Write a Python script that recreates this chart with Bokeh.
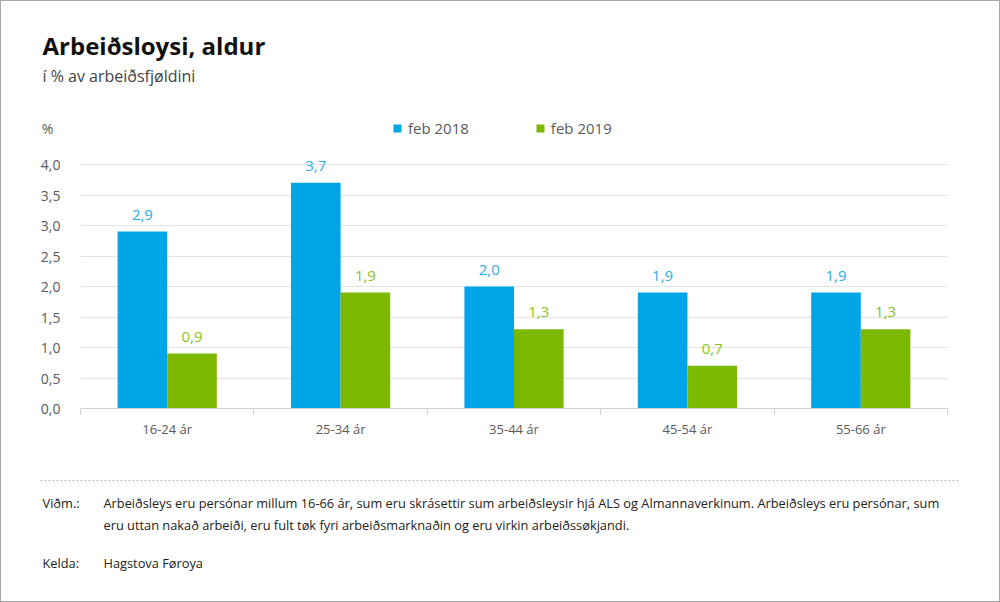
from bokeh.plotting import figure
from bokeh.layouts import column
from bokeh.models import (ColumnDataSource, Range1d, FixedTicker, CustomJSTickFormatter,
                          LabelSet, Legend, LegendItem)
from bokeh.core.properties import value
from bokeh.embed import file_html
from bokeh.resources import INLINE

categories = ["16-24 ár", "25-34 ár", "35-44 ár", "45-54 ár", "55-66 ár"]
series_names = ["feb 2018", "feb 2019"]
feb2018 = [2.9, 3.7, 2.0, 1.9, 1.9]
feb2019 = [0.9, 1.9, 1.3, 0.7, 1.3]
y_ticks = [0.0, 0.5, 1.0, 1.5, 2.0, 2.5, 3.0, 3.5, 4.0]

title = "Arbeiðsloysi, aldur"
subtitle = "í % av arbeiðsfjøldini"
unit = "%"
note_label = "Viðm.:"
note_lines = ["Arbeiðsleys eru persónar millum 16-66 ár, sum eru skrásettir sum arbeiðsleysir hjá ALS og Almannaverkinum. Arbeiðsleys eru persónar, sum",
              "eru uttan nakað arbeiði, eru fult tøk fyri arbeiðsmarknaðin og eru virkin arbeiðssøkjandi."]
source_label = "Kelda:"
source_text = "Hagstova Føroya"

BLUE = "#00a5e8"
GREEN = "#7db800"
BLUE_TXT = "#2ab0e8"
GREEN_TXT = "#8cbf20"
FONT = "Open Sans"

W, H = 1000, 602
HEAD_H = 100
FOOT_TOP = 462
FL, FR, FT, FB = 80, 947, 110, 408   # main frame edges in page pixels
Y_END = 4.0 * (FB - FT) / (FB - 164)
Y_UNIT = 4.0 * (FB - 128) / (FB - 164)   # height at which the "%" unit label sits


def blank(h, top):
    f = figure(width=W, height=h, output_backend="svg", toolbar_location=None,
               x_range=Range1d(0, W), y_range=Range1d(top + h, top),
               min_border=0, min_border_left=0, min_border_right=0,
               min_border_top=0, min_border_bottom=0)
    f.frame_align = False
    f.axis.visible = False
    f.grid.visible = False
    f.outline_line_color = None
    f.background_fill_alpha = 0
    f.border_fill_alpha = 0
    return f


# ---------- header ----------
head = blank(HEAD_H, 0)
head.text(x=[42], y=[45], text=[title], text_font=value(FONT), text_font_size="24px",
          text_font_style="bold", text_color="#111111", text_baseline="middle")
head.text(x=[42], y=[75], text=[subtitle], text_font=value(FONT), text_font_size="16px",
          text_color="#444444", text_baseline="middle")

# ---------- main chart ----------
p = figure(width=W, height=FOOT_TOP - HEAD_H, output_backend="svg", toolbar_location=None,
           x_range=Range1d(0, len(categories)), y_range=Range1d(0, Y_END),
           min_border_left=FL, min_border_right=W - FR,
           min_border_top=FT - HEAD_H, min_border_bottom=FOOT_TOP - FB)
p.frame_align = False
p.outline_line_color = None
p.background_fill_alpha = 0
p.border_fill_alpha = 0

xs = [i + 0.5 for i in range(len(categories))]
src = ColumnDataSource(dict(
    x=xs,
    x1=[x - 0.143 for x in xs],
    x2=[x + 0.143 for x in xs],
    v1=feb2018, v2=feb2019,
    t1=[f"{v:.1f}".replace(".", ",") for v in feb2018],
    t2=[f"{v:.1f}".replace(".", ",") for v in feb2019],
))

r1 = p.vbar(x="x1", top="v1", width=0.286, bottom=0, source=src, fill_color=BLUE, line_color=None)
r2 = p.vbar(x="x2", top="v2", width=0.286, bottom=0, source=src, fill_color=GREEN, line_color=None)

for xcol, ycol, tcol, col in [("x1", "v1", "t1", BLUE_TXT), ("x2", "v2", "t2", GREEN_TXT)]:
    p.add_layout(LabelSet(x=xcol, y=ycol, text=tcol, source=src, text_align="center",
                          text_baseline="bottom", y_offset=12, text_font=value(FONT),
                          text_font_size="15px", text_color=col))

p.yaxis.ticker = FixedTicker(ticks=y_ticks + [Y_UNIT])
p.yaxis.formatter = CustomJSTickFormatter(
    args=dict(yu=Y_UNIT, unit=unit + "\u00a0\u00a0"),
    code="return Math.abs(tick - yu) < 1e-6 ? unit : tick.toFixed(1).replace('.', ',');")
p.yaxis.axis_line_color = None
p.yaxis.major_tick_line_color = None
p.yaxis.minor_tick_line_color = None
p.yaxis.major_label_text_font = FONT
p.yaxis.major_label_text_font_size = "14px"
p.yaxis.major_label_text_color = "#5a5a5a"
p.yaxis.major_label_standoff = 14
p.ygrid.ticker = FixedTicker(ticks=y_ticks)
p.ygrid.grid_line_color = "#e3e3e3"
p.ygrid.grid_line_width = 1
p.xgrid.grid_line_color = None

p.xaxis.ticker = FixedTicker(ticks=xs, minor_ticks=list(range(len(categories) + 1)))
p.xaxis.major_label_overrides = {x: c for x, c in zip(xs, categories)}
p.xaxis.major_tick_line_color = None
p.xaxis.minor_tick_line_color = "#d0d0d0"
p.xaxis.minor_tick_out = 6
p.xaxis.minor_tick_in = 0
p.xaxis.axis_line_color = "#d0d0d0"
p.xaxis.major_label_text_font = FONT
p.xaxis.major_label_text_font_size = "13px"
p.xaxis.major_label_text_color = "#5a5a5a"
p.xaxis.major_label_standoff = 5

legend = Legend(items=[LegendItem(label=series_names[0], renderers=[r1]),
                       LegendItem(label=series_names[1], renderers=[r2])],
                orientation="horizontal", location=(312, 270),
                label_text_font=FONT, label_text_font_size="15px", label_text_color="#5a5a5a",
                glyph_width=10, glyph_height=10, label_standoff=6, spacing=66,
                padding=0, margin=0, border_line_color=None, background_fill_alpha=0)
p.add_layout(legend)

# ---------- footer ----------
foot = blank(H - FOOT_TOP, FOOT_TOP)
foot.line(x=[40, 960], y=[480, 480], line_color="#b8b8b8", line_dash="2 2", line_width=1)
foot_txt = dict(text_font=value(FONT), text_font_size="12.8px", text_color="#222222",
                text_baseline="middle")
foot.text(x=[42, 103, 103, 42, 103], y=[502, 502, 524, 562, 562],
          text=[note_label, note_lines[0], note_lines[1], source_label, source_text], **foot_txt)

layout = column(head, p, foot, spacing=0)
layout.styles = {"outline": "1px solid #a8a8a8", "outline-offset": "-1px",
                 "background-color": "white"}

open("out.html", "w").write(file_html(layout, INLINE))
